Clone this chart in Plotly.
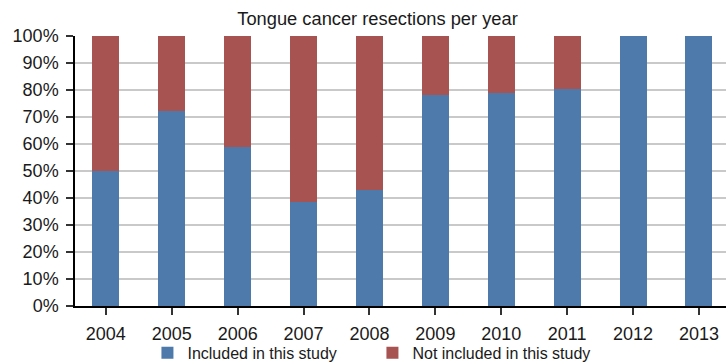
import plotly.graph_objects as go

years = ["2004", "2005", "2006", "2007", "2008", "2009", "2010", "2011", "2012", "2013"]
included = [0.50, 0.723, 0.59, 0.386, 0.43, 0.78, 0.788, 0.803, 1.0, 1.0]
not_included = [round(1 - v, 3) for v in included]

BLUE = "#4E79AB"
RED = "#A65352"
TEXT = "#1a1a1a"

fig = go.Figure()
fig.add_trace(go.Bar(x=years, y=included, name="Included in this study",
                     marker=dict(color=BLUE, line=dict(width=0))))
fig.add_trace(go.Bar(x=years, y=not_included, name="Not included in this study",
                     marker=dict(color=RED, line=dict(width=0))))

fig.update_layout(
    width=726, height=363,
    barmode="stack", bargap=0.59,
    paper_bgcolor="white", plot_bgcolor="white",
    margin=dict(l=75, r=0, t=36, b=57, autoexpand=False),
    font=dict(family="Liberation Sans, Arial, sans-serif", size=18, color=TEXT),
    title=dict(text="Tongue cancer resections per year", xref="container", x=0.52,
               xanchor="center", yref="container", y=0.95, yanchor="middle",
               font=dict(size=18.3, color=TEXT)),
    legend=dict(orientation="h", xref="container", yref="container",
                x=0.513, xanchor="center", y=0.028, yanchor="middle",
                bgcolor="rgba(0,0,0,0)",
                font=dict(size=16, color=TEXT), traceorder="normal",
                entrywidth=180, entrywidthmode="pixels"),
    showlegend=True,
)
fig.update_xaxes(type="category", range=[-0.468, 9.41], showgrid=False,
                 showline=True, linecolor="black", linewidth=1.5,
                 ticks="outside", ticklen=7, tickwidth=1.5, tickcolor="#333",
                 ticklabelstandoff=4)
fig.update_yaxes(range=[0, 1], dtick=0.1, tickformat=".0%",
                 showgrid=True, gridcolor="#c9c9c9", gridwidth=2,
                 showline=True, linecolor="black", linewidth=1.5,
                 ticks="outside", ticklen=7, tickwidth=1.5, tickcolor="#333",
                 ticklabelstandoff=4, zeroline=False)

fig.write_html("out.html")
